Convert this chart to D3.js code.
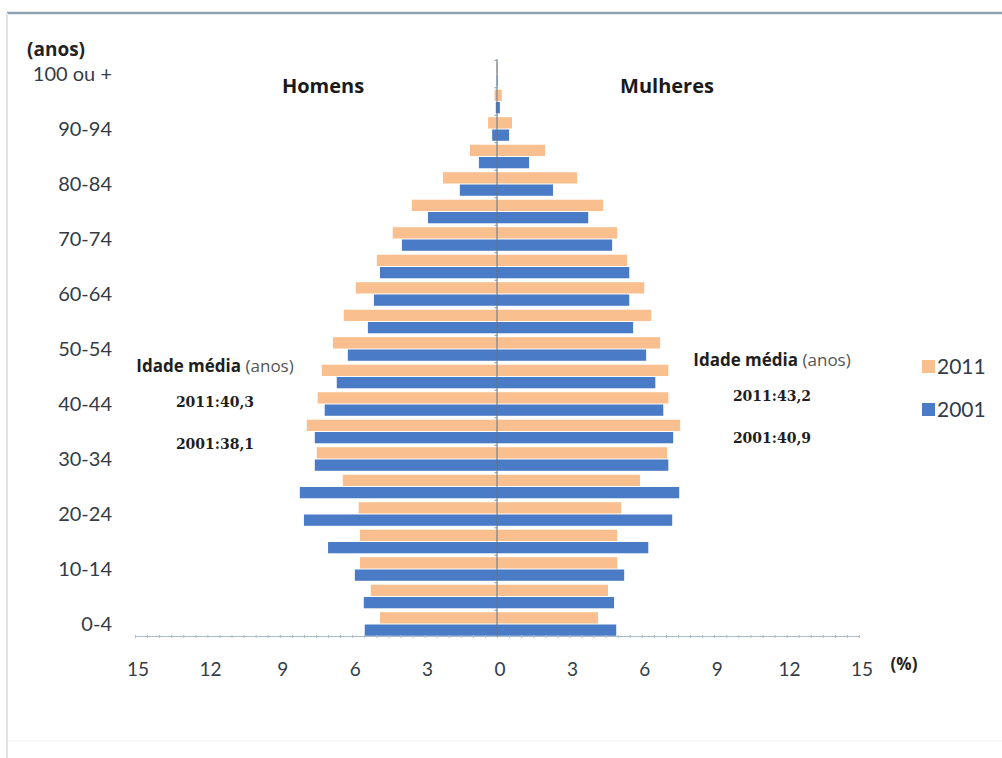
<!DOCTYPE html>
<html>
<head>
<meta charset="utf-8">
<script src="https://cdn.jsdelivr.net/npm/d3@7"></script>
<style>
  html, body { margin: 0; padding: 0; background: #ffffff; }
  svg { display: block; }
</style>
</head>
<body>
<svg id="chart" width="1002" height="758"></svg>
<script>
// ---- data (percent of population) ----
const ageGroups = ["0-4","5-9","10-14","15-19","20-24","25-29","30-34","35-39","40-44","45-49",
  "50-54","55-59","60-64","65-69","70-74","75-79","80-84","85-89","90-94","95-99","100 ou +"];
const ageLabels = ["0-4","10-14","20-24","30-34","40-44","50-54","60-64","70-74","80-84","90-94","100 ou +"];
const men2011   = [4.85,5.23,5.68,5.68,5.73,6.39,7.47,7.88,7.43,7.26,6.80,6.35,5.85,4.98,4.32,3.53,2.24,1.12,0.37,0.10,0.02];
const women2011 = [4.19,4.60,4.98,4.98,5.15,5.93,7.05,7.59,7.10,7.10,6.76,6.39,6.10,5.39,4.98,4.40,3.32,1.99,0.62,0.20,0.04];
const men2001   = [5.48,5.52,5.89,7.00,8.00,8.17,7.55,7.55,7.14,6.64,6.18,5.35,5.10,4.85,3.94,2.86,1.54,0.75,0.20,0.05,0.01];
const women2001 = [4.94,4.85,5.27,6.27,7.26,7.55,7.10,7.30,6.89,6.56,6.18,5.64,5.48,5.48,4.77,3.78,2.32,1.33,0.50,0.12,0.02];
const years = ["2011","2001"];
const xTicks = [-15,-12,-9,-6,-3,0,3,6,9,12,15];
const medianLeft = ["2011:40,3","2001:38,1"];
const medianRight = ["2011:43,2","2001:40,9"];

const colors = { "2011": "#f9bf8e", "2001": "#4a7bc6" };
const textCol = "#333c46";

const svg = d3.select("#chart");

// frame
svg.append("line").attr("x1",7).attr("x2",1002).attr("y1",13).attr("y2",13)
  .attr("stroke","#8ea3b0").attr("stroke-width",2.5);
svg.append("line").attr("x1",7).attr("x2",7).attr("y1",13).attr("y2",758)
  .attr("stroke","#dfe4e8").attr("stroke-width",2);
svg.append("line").attr("x1",8).attr("x2",1002).attr("y1",741).attr("y2",741)
  .attr("stroke","#f4f1ef").attr("stroke-width",1);

// scales
const x = d3.scaleLinear().domain([-15,15]).range([135,859]);
const y = d3.scaleBand().domain(ageGroups.slice().reverse()).range([60.25,637.75]).paddingInner(0).paddingOuter(0);
const ySub = d3.scaleBand().domain(years).range([0,y.bandwidth()]).paddingInner(0.08).paddingOuter(0.16);

const rows = ageGroups.map((a,i) => ({
  age:a,
  vals:[
    {side:"m", year:"2011", v:men2011[i]},
    {side:"m", year:"2001", v:men2001[i]},
    {side:"f", year:"2011", v:women2011[i]},
    {side:"f", year:"2001", v:women2001[i]}
  ]
}));

const g = svg.append("g");
const groups = g.selectAll("g.row").data(rows).join("g")
  .attr("transform", d => `translate(0,${y(d.age)})`);
groups.selectAll("rect").data(d => d.vals).join("rect")
  .attr("x", d => d.side === "m" ? x(-d.v) : x(0))
  .attr("width", d => Math.abs(x(d.v) - x(0)))
  .attr("y", d => ySub(d.year))
  .attr("height", ySub.bandwidth())
  .attr("fill", d => colors[d.year]);

// x axis with minor ticks
const axisY = 636.5;
const xAxis = d3.axisBottom(x).tickValues(d3.range(-15,15.001,0.5)).tickSize(3).tickFormat("");
const ax = svg.append("g").attr("transform",`translate(0,${axisY - 1.5})`).call(xAxis);
ax.select(".domain").attr("stroke","#a9bccb").attr("stroke-width",1).attr("d",`M${x(-15)},1.5H${x(15)}`);
ax.selectAll(".tick line").attr("stroke","#a9bccb").attr("y1",0).attr("y2",3);

// tick labels (absolute values)
svg.append("g").selectAll("text").data(xTicks).join("text")
  .attr("x", d => x(d) + 3)
  .attr("y", 676)
  .attr("text-anchor","middle")
  .attr("font-family","Lato, 'Liberation Sans', sans-serif")
  .attr("font-size",19)
  .attr("fill",textCol)
  .text(d => Math.abs(d));

// center (vertical) axis
const vAxis = d3.axisLeft(y).tickValues([]).tickSize(0);
const va = svg.append("g").attr("transform",`translate(${x(0)},0)`).call(vAxis);
va.select(".domain").attr("stroke","#5f7487").attr("stroke-width",1)
  .attr("d",`M0,${y.range()[0]-1}V${axisY}`);
svg.append("g").selectAll("line").data(ageGroups).join("line")
  .attr("x1",x(0)-2.5).attr("x2",x(0)+0.5)
  .attr("y1", d => y(d)).attr("y2", d => y(d))
  .attr("stroke","#7d93a6").attr("stroke-width",1);

// y labels
svg.append("g").selectAll("text").data(ageLabels).join("text")
  .attr("x",112)
  .attr("y", d => y(d) + y.bandwidth()/2 + 7)
  .attr("text-anchor","end")
  .attr("font-family","Lato, 'Liberation Sans', sans-serif")
  .attr("font-size",20)
  .attr("fill",textCol)
  .text(d => d);

svg.append("text").attr("x",27).attr("y",56)
  .attr("font-family","'Open Sans', 'Liberation Sans', sans-serif").attr("font-weight","bold")
  .attr("font-size",19).attr("fill","#222").text("(anos)");

svg.append("text").attr("x",904).attr("y",670)
  .attr("font-family","'Open Sans', 'Liberation Sans', sans-serif").attr("font-weight","bold")
  .attr("font-size",17).attr("fill","#222").attr("text-anchor","middle").text("(%)");

// side titles
svg.append("text").attr("x",323).attr("y",93).attr("text-anchor","middle")
  .attr("font-family","'Open Sans', 'Liberation Sans', sans-serif").attr("font-weight","bold")
  .attr("font-size",20).attr("fill","#1a1a1a").text("Homens");
svg.append("text").attr("x",667).attr("y",93).attr("text-anchor","middle")
  .attr("font-family","'Open Sans', 'Liberation Sans', sans-serif").attr("font-weight","bold")
  .attr("font-size",20).attr("fill","#1a1a1a").text("Mulheres");

// median age blocks
function medianBlock(cx, ty, vals) {
  const t = svg.append("text").attr("x",cx).attr("y",ty).attr("text-anchor","middle")
    .attr("font-family","'Open Sans', 'Liberation Sans', sans-serif").attr("font-size",17).attr("fill","#1e1e1e");
  t.append("tspan").attr("font-weight","bold").text("Idade média ");
  t.append("tspan").attr("fill","#555").text("(anos)");
  svg.append("g").selectAll("text").data(vals).join("text")
    .attr("x",cx).attr("y",(d,i) => ty + 35 + i*42).attr("text-anchor","middle")
    .attr("font-family","'DejaVu Serif', 'Liberation Serif', serif").attr("font-weight","bold")
    .attr("font-size",14).attr("fill","#1e1e1e").text(d => d);
}
medianBlock(215, 372, medianLeft);
medianBlock(772, 366, medianRight);

// legend
const leg = svg.append("g").selectAll("g").data(years).join("g")
  .attr("transform",(d,i) => `translate(922,${360 + i*43})`);
leg.append("rect").attr("x",0).attr("y",0).attr("width",13).attr("height",13).attr("fill",d => colors[d]);
leg.append("text").attr("x",15).attr("y",14).attr("font-family","Lato, 'Liberation Sans', sans-serif")
  .attr("font-size",21).attr("fill",textCol).text(d => d);
</script>
</body>
</html>
